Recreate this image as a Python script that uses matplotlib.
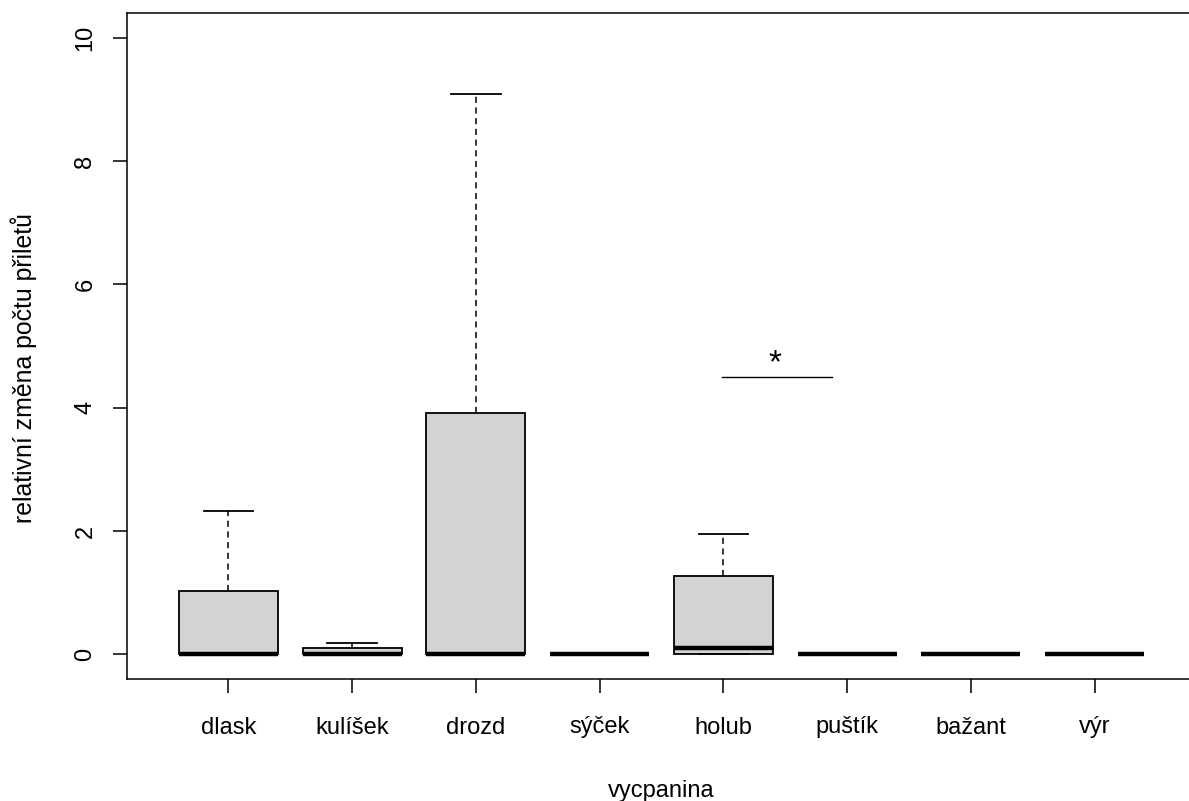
import matplotlib
matplotlib.use("Agg")
import matplotlib.pyplot as plt

plt.rcParams["font.family"] = ["Liberation Sans", "DejaVu Sans"]

# data
species = ["dlask", "kulíšek", "drozd", "sýček", "holub", "puštík", "bažant", "výr"]
q1 = [0, 0, 0, 0, 0, 0, 0, 0]
med = [0, 0, 0, 0, 0.10, 0, 0, 0]
q3 = [1.03, 0.10, 3.92, 0, 1.27, 0, 0, 0]
whislo = [0, 0, 0, 0, 0, 0, 0, 0]
whishi = [2.33, 0.19, 9.08, 0, 1.95, 0, 0, 0]
yticks = [0, 2, 4, 6, 8, 10]

# significance marker
sig_x = [4.99, 5.88]
sig_y = 4.5
star_x = 5.42

stats = [
    {"label": s, "q1": a, "med": m, "q3": b, "whislo": lo, "whishi": hi, "fliers": []}
    for s, a, m, b, lo, hi in zip(species, q1, med, q3, whislo, whishi)
]

W, H = 1189, 801
fig = plt.figure(figsize=(W / 100, H / 100), dpi=100)
# plot region runs a little past the right edge of the image (as in the reference crop)
ax = fig.add_axes([127 / W, (H - 679) / H, (1196 - 127) / W, 666 / H])

ax.bxp(stats, positions=range(1, len(species) + 1), widths=0.8, patch_artist=True,
       showfliers=False,
       boxprops=dict(facecolor="#d3d3d3", edgecolor="black", linewidth=1.3),
       medianprops=dict(color="black", linewidth=3.2, solid_capstyle="butt"),
       whiskerprops=dict(color="black", linewidth=1.1, linestyle=(0, (4, 3))),
       capprops=dict(color="black", linewidth=1.3),
       capwidths=0.4)

ax.plot(sig_x, [sig_y, sig_y], color="black", lw=1.0)
ax.text(star_x, 4.57, "*", ha="center", va="baseline", fontsize=24)

ax.set_xlim(0.18, 8.82)
ax.set_ylim(-0.4, 10.4)
ax.set_yticks(yticks)
ax.set_yticklabels([str(t) for t in yticks], rotation=90, va="center")
ax.set_xticks(range(1, len(species) + 1))
ax.set_xticklabels(species)
ax.tick_params(labelsize=17, length=10, width=1.1)
ax.tick_params(axis="x", pad=17)
ax.tick_params(axis="y", pad=12)
for sp in ax.spines.values():
    sp.set_linewidth(1.1)
ax.spines["right"].set_visible(False)

ax.set_xlabel("vycpanina", fontsize=17, labelpad=30)
ax.set_ylabel("relativní změna počtu přiletů", fontsize=17.9)
ax.yaxis.set_label_coords((37 - 127) / (1196 - 127), (679 - 368) / 666)

fig.savefig("out.png", dpi=100)
